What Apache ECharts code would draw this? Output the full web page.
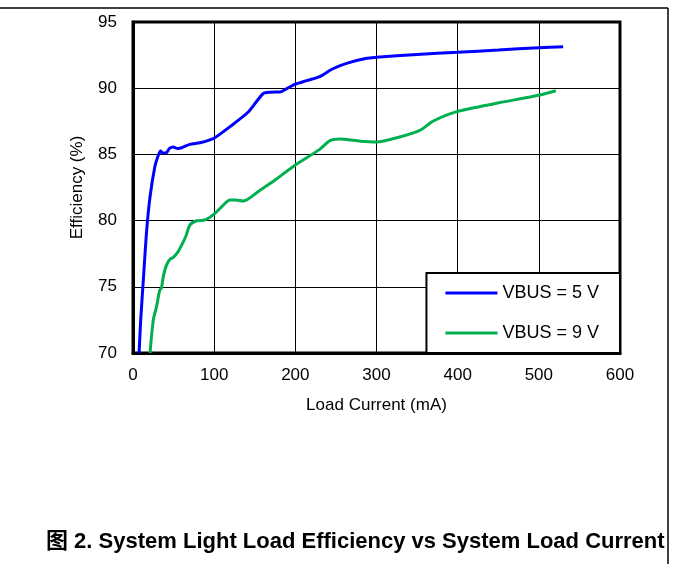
<!DOCTYPE html>
<html>
<head>
<meta charset="utf-8">
<script src="https://cdn.jsdelivr.net/npm/echarts@6/dist/echarts.min.js"></script>
<style>
html,body{margin:0;padding:0;background:#fff;}
#chart{width:673px;height:564px;}
</style>
</head>
<body>
<div id="chart"></div>
<script>
const xTicks = [0, 100, 200, 300, 400, 500, 600];
const yTicks = [70, 75, 80, 85, 90, 95];

const vbus5Current = [7.5, 9.5, 12.7, 16.9, 21, 27, 31, 34, 37, 41.5, 45, 49.7, 55, 60, 70, 82.5, 99, 119.5, 142, 160.5, 170, 181, 190, 200, 214, 230, 245, 263, 288, 300, 350, 400, 450, 500, 530];
const vbus5Eff = [70, 72.5, 75.5, 79.3, 81.8, 84.1, 84.9, 85.25, 85.1, 85.15, 85.45, 85.55, 85.45, 85.5, 85.76, 85.88, 86.2, 87.1, 88.2, 89.6, 89.7, 89.72, 89.99, 90.3, 90.57, 90.87, 91.43, 91.88, 92.26, 92.33, 92.55, 92.71, 92.88, 93.06, 93.14];

const vbus9Current = [21, 25, 29, 33, 35, 37.3, 41, 45.6, 49.7, 55, 60, 65, 70.2, 78.4, 88.7, 101, 110, 119.5, 127, 135.9, 156.5, 175, 200, 230, 242.7, 255, 280, 300, 325, 354, 370, 399, 448, 501, 521];
const vbus9Eff = [70, 72.5, 73.5, 74.76, 74.9, 75.76, 76.6, 77.08, 77.23, 77.6, 78.16, 78.8, 79.67, 79.99, 80.05, 80.55, 81.1, 81.56, 81.55, 81.48, 82.3, 83.07, 84.2, 85.38, 86.04, 86.16, 86.0, 85.94, 86.26, 86.84, 87.52, 88.23, 88.86, 89.49, 89.81];

const seriesNames = ['VBUS = 5 V', 'VBUS = 9 V'];
const captionText = '图 2. System Light Load Efficiency vs System Load Current';
const xName = 'Load Current (mA)';
const yName = 'Efficiency (%)';

function zip(a, b) { return a.map((v, i) => [v, b[i]]); }

const FONT = '"Liberation Sans", Arial, "Noto Sans CJK SC", sans-serif';
const chart = echarts.init(document.getElementById('chart'), null, {renderer: 'canvas'});

chart.setOption({
  animation: false,
  backgroundColor: '#fff',
  grid: {left: 133, top: 22, right: 53, bottom: 211, show: true, borderColor: '#000', borderWidth: 3, containLabel: false},
  title: {
    text: captionText,
    left: 46, top: 531, padding: 0,
    textStyle: {fontFamily: FONT, fontSize: 22, fontWeight: 'bold', color: '#000'}
  },
  legend: {
    orient: 'vertical',
    right: 53, bottom: 211,
    backgroundColor: '#fff',
    borderColor: '#000', borderWidth: 2,
    padding: [10, 21, 10, 19],
    itemWidth: 52, itemHeight: 3, itemGap: 20,
    icon: 'rect',
    textStyle: {fontFamily: FONT, fontSize: 18, color: '#000', lineHeight: 20, padding: [0, 0, 0, 0]},
    data: seriesNames
  },
  xAxis: {
    type: 'value', min: 0, max: 600, interval: 100,
    name: xName, nameLocation: 'middle', nameGap: 44,
    nameTextStyle: {fontFamily: FONT, fontSize: 17, color: '#000'},
    axisLine: {show: true, lineStyle: {color: '#000', width: 3}},
    axisTick: {show: false},
    axisLabel: {fontFamily: FONT, fontSize: 17, color: '#000', margin: 14,
      formatter: v => xTicks.includes(v) ? String(v) : ''},
    splitLine: {show: true, lineStyle: {color: '#000', width: 1}}
  },
  yAxis: {
    type: 'value', min: 70, max: 95, interval: 5,
    name: yName, nameLocation: 'middle', nameGap: 47, nameRotate: 90,
    nameTextStyle: {fontFamily: FONT, fontSize: 17, color: '#000'},
    axisLine: {show: true, lineStyle: {color: '#000', width: 3}},
    axisTick: {show: false},
    axisLabel: {fontFamily: FONT, fontSize: 17, color: '#000', margin: 16,
      formatter: v => yTicks.includes(v) ? String(v) : ''},
    splitLine: {show: true, lineStyle: {color: '#000', width: 1}}
  },
  series: [
    {name: seriesNames[0], type: 'line', data: zip(vbus5Current, vbus5Eff), smooth: 0.25,
     showSymbol: false, symbol: 'none', lineStyle: {color: '#0000FF', width: 3}, itemStyle: {color: '#0000FF'}, z: 3},
    {name: seriesNames[1], type: 'line', data: zip(vbus9Current, vbus9Eff), smooth: 0.25,
     showSymbol: false, symbol: 'none', lineStyle: {color: '#00B050', width: 3}, itemStyle: {color: '#00B050'}, z: 3}
  ],
  graphic: [
    {type: 'line', shape: {x1: 0, y1: 8, x2: 668, y2: 8}, style: {stroke: '#000', lineWidth: 1.5}, silent: true},
    {type: 'line', shape: {x1: 668, y1: 8, x2: 668, y2: 564}, style: {stroke: '#000', lineWidth: 1.5}, silent: true}
  ]
});
</script>
</body>
</html>
